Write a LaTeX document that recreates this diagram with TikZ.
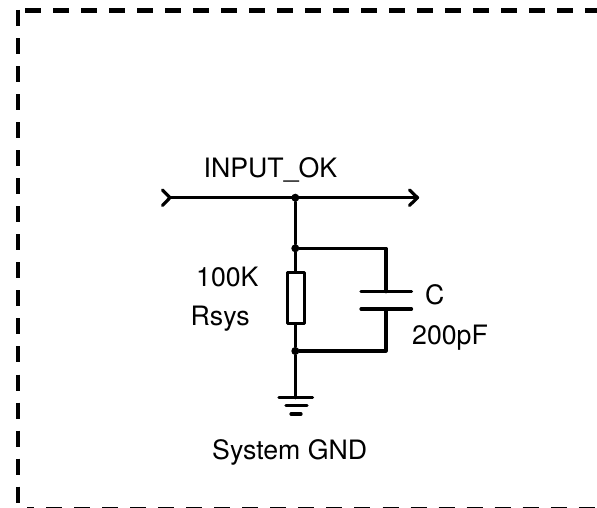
\documentclass[tikz,border=0pt]{standalone}
\usepackage{fontspec}
\setmainfont{TeX Gyre Heros}
\usetikzlibrary{calc}
\tikzset{
  wire/.style={line width=3.2pt,line join=round,line cap=round},
  frame/.style={line width=4.4pt,dash pattern=on 16.2pt off 11.8pt},
  dot/.style={circle,fill=black,inner sep=0pt,minimum size=8pt},
  lab/.style={anchor=base west,inner sep=0pt,font=\fontsize{26.7}{26.7}\selectfont},
  resbox/.style={draw,line width=3.2pt,fill=white,rectangle,minimum width=16.5pt,minimum height=51.5pt,inner sep=0pt,line join=round},
}
\begin{document}
\begin{tikzpicture}[x=1pt,y=-1pt]
\useasboundingbox (0,0) rectangle (597,508);
\begin{scope}
\clip (0,0) rectangle (597,508);
\coordinate (tl) at (25,10.4);
\coordinate (tr) at (597,10.4);
\coordinate (lt) at (18.2,10);
\coordinate (lb) at (18.2,503);
\coordinate (bl) at (27.3,509.6);
\coordinate (br) at (597,509.6);
\draw[frame] (tl) -- (tr);
\draw[frame,dash pattern=on 16pt off 12.04pt] (lt) -- (lb);
\draw[frame,dash pattern=on 16pt off 12.04pt,dash phase=9.3pt] (bl) -- (br);
\end{scope}
% nodes
\coordinate (L) at (170,197.7);
\coordinate (R) at (417.5,197.7);
\node[dot] (j1) at (295.3,197.7) {};
\node[dot] (j2) at (295.3,248.3) {};
\node[dot] (j3) at (295.3,351) {};
\node[resbox] (res) at (296,298) {};
\coordinate (cc1) at (386,248.3);
\coordinate (cc2) at (386,351);
\coordinate (p1) at (386,291.7);
\coordinate (p2) at (386,309);
\coordinate (p1a) at (361,291.7);
\coordinate (p1b) at (411.5,291.7);
\coordinate (p2a) at (361,309);
\coordinate (p2b) at (411.5,309);
\coordinate (g1) at (295.3,397.7);
\coordinate (g1a) at (279,397.7);
\coordinate (g1b) at (312.5,397.7);
\coordinate (g2a) at (286,405.7);
\coordinate (g2b) at (307,405.7);
\coordinate (g3a) at (291,414);
\coordinate (g3b) at (301,414);
\coordinate (La) at (162.5,190);
\coordinate (Lb) at (162.5,205.4);
\coordinate (Ra) at (409.5,190);
\coordinate (Rb) at (409.5,205.4);
% wires
\draw[wire] (L) -- (R);
\draw[wire] (La) -- (L) -- (Lb);
\draw[wire] (Ra) -- (R) -- (Rb);
\draw[wire] (j1) -- (j2);
\draw[wire] (j2) -- (res.north -| j2);
\draw[wire] (res.south -| j3) -- (j3);
\draw[wire] (j3) -- (g1);
\draw[wire] (j2) -- (cc1) -- (p1);
\draw[wire] (j3) -- (cc2) -- (p2);
\draw[wire] (p1a) -- (p1b);
\draw[wire] (p2a) -- (p2b);
\draw[wire] (g1a) -- (g1b);
\draw[wire] (g2a) -- (g2b);
\draw[wire] (g3a) -- (g3b);
% labels
\node[lab] (t1) at (203.5,177.2) {INPUT\_OK};
\node[lab] (t2) at (196,286.5) {100K};
\node[lab] (t3) at (190.5,325) {Rsys};
\node[lab] (t4) at (425,304.5) {C};
\node[lab] (t5) at (412,344.5) {200pF};
\node[lab] (t6) at (212,459) {System GND};
\end{tikzpicture}
\end{document}
